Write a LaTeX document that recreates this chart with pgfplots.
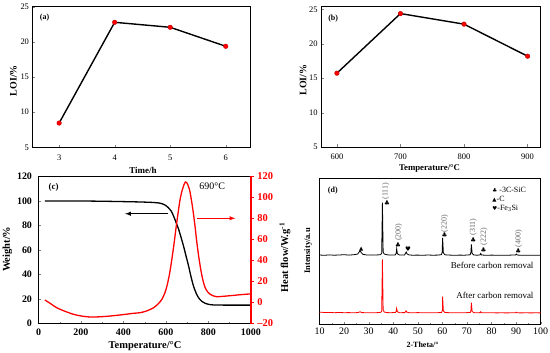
\documentclass[border=0pt]{standalone}
\usepackage{pgfplots}
\pgfplotsset{compat=1.18}
\usepackage{fontspec}
\setmainfont{Liberation Serif}
\newfontfamily\symfont{DejaVu Sans}
\pgfplotsset{
  every axis/.append style={scale only axis, anchor=south west,
    /pgf/number format/assume math mode=true,
    /pgf/number format/1000 sep={},
    tick align=inside, major tick length=2.5bp, minor tick length=1.5bp,
    clip=false},
}
\begin{document}
\begin{tikzpicture}
\useasboundingbox (0,0) rectangle (550bp,353bp);

% ---------------- (a) ----------------
\begin{axis}[at={(32.5bp,205.7bp)}, width=218.2bp, height=140.6bp,
  xmin=2.52, xmax=6.45, ymin=5, ymax=25,
  xtick={3,4,5,6}, ytick={5,10,15,20,25},
  tick pos=left, axis line style={line width=0.9bp},
  tick label style={font=\fontsize{8.5}{9}\selectfont},
  xticklabel style={yshift=-4.5bp},
  xlabel={Time/h}, ylabel={LOI/\%},
  xlabel style={at={(axis description cs:0.506,-0.161)}, anchor=center, font=\bfseries\fontsize{9}{10}\selectfont},
  ylabel style={at={(axis description cs:-0.088,0.474)}, anchor=center, font=\bfseries\fontsize{10}{11}\selectfont},
]
\addplot[black, line width=1.4bp, mark=*, mark size=2.3bp,
  mark options={fill=red, draw=red!75!black, line width=0.4bp}]
  coordinates {(3,8.45) (4,22.78) (5,22.07) (6,19.37)};
\node[anchor=west, font=\bfseries\fontsize{8}{9}\selectfont] at (axis cs:2.59,23.5) {(a)};
\end{axis}

% ---------------- (b) ----------------
\begin{axis}[at={(321bp,206bp)}, width=219.3bp, height=140.3bp,
  xmin=575, xmax=920, ymin=5, ymax=25.4,
  xtick={600,700,800,900}, ytick={5,10,15,20,25},
  tick pos=left, axis line style={line width=0.9bp},
  tick label style={font=\fontsize{8.5}{9}\selectfont},
  xticklabel style={yshift=-3.5bp},
  xlabel={Temperature/\textdegree C}, ylabel={LOI/\%},
  xlabel style={at={(axis description cs:0.495,-0.152)}, anchor=center, font=\bfseries\fontsize{8.8}{10}\selectfont},
  ylabel style={at={(axis description cs:-0.081,0.478)}, anchor=center, font=\bfseries\fontsize{10}{11}\selectfont},
]
\addplot[black, line width=1.4bp, mark=*, mark size=2.3bp,
  mark options={fill=red, draw=red!75!black, line width=0.4bp}]
  coordinates {(600,15.73) (700,24.4) (800,22.86) (900,18.2)};
\node[anchor=west, font=\bfseries\fontsize{8}{9}\selectfont] at (axis cs:581,23.7) {(b)};
\end{axis}

% ---------------- (c) left ----------------
\begin{axis}[at={(38.5bp,29.5bp)}, width=212.3bp, height=147bp,
  xmin=0, xmax=1000, ymin=0, ymax=120,
  xtick={0,200,400,600,800,1000}, ytick={0,20,40,60,80,100,120},
  minor x tick num=1,
  tick pos=left, axis line style={line width=1.6bp},
  tick label style={font=\bfseries\fontsize{10}{11}\selectfont},
  xticklabel style={yshift=-2bp}, yticklabel style={xshift=-3bp},
  xlabel={Temperature/\textdegree C}, ylabel={Weight/\%},
  xlabel style={at={(axis description cs:0.502,-0.153)}, anchor=center, font=\bfseries\fontsize{10.5}{11}\selectfont},
  ylabel style={at={(axis description cs:-0.147,0.505)}, anchor=center, font=\bfseries\fontsize{10.5}{11}\selectfont},
]
\addplot[black, line width=1.3bp, smooth] coordinates {
(30,100) (100,100) (200,100) (300,99.8) (400,99.5) (480,99.2) (540,98.8)
(573,98.2) (595,96.8) (612,94.5) (625,91.8) (636,87.8) (648,82.5) (660,76.9)
(672,70) (683,63.3) (695,55) (707,46.9) (718,38.5) (730,30.6) (742,25)
(754,21) (770,18) (785,16.5) (805,15.5) (825,15.1) (900,15) (1000,15)};
\draw[-latex, black, line width=1bp] (axis cs:612,89.6) -- (axis cs:408,89.6);
\draw[-latex, red, line width=1bp] (axis cs:746,85.9) -- (axis cs:927,85.9);
\node[anchor=west, font=\bfseries\fontsize{9}{10}\selectfont] at (axis cs:31,110.9) {(c)};
\node[anchor=west, font=\fontsize{10}{11}\selectfont] at (axis cs:741,112.2) {690\textdegree C};
\end{axis}

% ---------------- (c) right ----------------
\begin{axis}[at={(38.5bp,29.5bp)}, width=212.3bp, height=147bp,
  xmin=0, xmax=1000, ymin=-20, ymax=120,
  axis x line=none, axis y line*=right,
  ytick={-20,0,20,40,60,80,100,120},
  yticklabels={\textendash20,0,20,40,60,80,100,120},
  tick align=outside, major tick length=3bp,
  y axis line style={red, line width=2bp},
  ytick style={red, line width=0.8bp},
  yticklabel style={red, font=\bfseries\fontsize{10.5}{11}\selectfont},
  ylabel={Heat flow/W.g\textsuperscript{-1}},
  ylabel style={at={(axis description cs:1.161,0.448)}, anchor=center, font=\bfseries\fontsize{10.5}{11}\selectfont},
]
\addplot[red, line width=1.3bp, smooth] coordinates {
(30,2.4) (60,-1.5) (86,-5) (120,-8) (164,-11.2) (200,-12.8) (243,-13.8)
(290,-13.6) (337,-12.9) (400,-11.5) (447,-10.3) (479,-9.7) (510,-8) (542,-5)
(565,-1) (581,3) (595,9) (605,15.7) (617,27) (628,41) (639,57) (649,72.9)
(658,86) (667,98.3) (677,107) (686,112.6) (692,114.8) (699,114) (711,107.8)
(719,99) (727,88.8) (737,73) (746,57) (756,42) (767,28.4) (776,20) (785,14.1)
(797,10) (809,7.8) (825,6.2) (840,5.5) (870,5.9) (920,6.8) (960,7.6) (1000,8.2)};
\end{axis}

% ---------------- (d) ----------------
\begin{axis}[at={(319.5bp,28.7bp)}, width=221.2bp, height=145.8bp,
  xmin=10, xmax=100, ymin=0, ymax=145.8,
  xtick={10,20,...,100}, ytick=\empty, minor x tick num=1,
  tick pos=left, axis line style={line width=1.5bp},
  tick label style={font=\fontsize{10}{11}\selectfont},
  xlabel={2-Theta/\textdegree}, ylabel={Intensity/a.u},
  xlabel style={at={(axis description cs:0.466,-0.137)}, anchor=center, font=\bfseries\fontsize{8}{9}\selectfont},
  ylabel style={at={(axis description cs:-0.051,0.503)}, anchor=center, font=\bfseries\fontsize{8.5}{9}\selectfont},
]
\addplot[black, line width=0.8bp] coordinates {
(10,69.3) (12,69.0) (14,69.4) (16,69.1) (18,69.3) (20,69.6) (22,69.2) (24,69.6)
(25.5,70.2) (26.2,72.5) (26.5,74) (26.9,72) (27.6,70) (29,69.4) (31,69.2) (33,69.3)
(34.8,69.6) (35.3,71) (35.6,121.6) (35.9,72) (36.4,70.2) (37.5,69.5) (39,69.2)
(40.8,69.4) (41.2,71) (41.4,75.6) (41.7,70.5) (42.5,69.3) (44.6,69.4) (45.0,71)
(45.3,72.3) (45.6,70.5) (46.5,69.3) (48,69.1) (50,69.2) (52,69.0) (54,69.3)
(56,69.1) (58,69.2) (59.6,69.6) (59.9,72) (60.1,86.3) (60.4,71.5) (61,69.5)
(63,69.2) (65,69.0) (67,69.2) (69,69.1) (71.3,69.5) (71.6,72) (71.8,80)
(72.1,71) (72.7,69.4) (74,69.1) (75.3,69.3) (75.6,70.8) (75.9,69.3) (78,69.0)
(80,69.2) (82,69.0) (84,69.1) (86,69.0) (88,69.2) (89.8,69.4) (90.1,70.2)
(90.4,69.3) (92,69.0) (94,69.1) (96,69.0) (98,69.1) (100,69.0)};
\addplot[red, line width=0.8bp] coordinates {
(10,12.2) (12,11.8) (14,11.9) (16,11.6) (18,11.8) (20,11.6) (22,11.7) (24,11.5)
(25.8,11.8) (26.5,12.6) (27.2,11.7) (29,11.6) (31,11.5) (33,11.6) (34.8,11.9)
(35.3,13) (35.6,65) (35.9,14) (36.4,12.2) (37.5,11.7) (39,11.6) (40.9,11.8)
(41.2,13) (41.4,16) (41.7,12.5) (42.5,11.6) (44.7,11.7) (45.0,12.5) (45.2,13.6)
(45.5,12.2) (46.5,11.6) (48,11.5) (50,11.7) (52,11.5) (54,11.6) (56,11.5)
(58,11.6) (59.7,11.9) (60.0,14) (60.1,27.6) (60.4,13.5) (61,11.8) (63,11.6)
(65,11.5) (67,11.6) (69,11.5) (71.4,11.9) (71.6,14) (71.8,21.6) (72.1,13)
(72.7,11.7) (74,11.5) (75.4,11.7) (75.6,12.6) (75.9,11.6) (78,11.5) (80,11.6)
(82,11.4) (84,11.5) (86,11.4) (88,11.5) (89.8,11.6) (90.1,12.1) (90.4,11.5)
(92,11.4) (94,11.5) (96,11.4) (98,11.5) (100,11.4)};
% peak markers
\addplot[only marks, mark=none, nodes near coords={\symfont ♣},
  every node near coord/.append style={anchor=center, inner sep=0pt, font=\fontsize{6.5}{7}\selectfont}]
  coordinates {(37.5,121.6) (42,79) (60.9,89.3) (72.6,84.3) (76.7,74.3) (90.9,73.3)};
\addplot[only marks, mark=none, nodes near coords={\symfont ▲},
  every node near coord/.append style={anchor=center, inner sep=0pt, font=\fontsize{5.5}{6}\selectfont}]
  coordinates {(27.0,75.6)};
\addplot[only marks, mark=none, nodes near coords={\symfont ♥},
  every node near coord/.append style={anchor=center, inner sep=0pt, font=\fontsize{6.5}{7}\selectfont}]
  coordinates {(46,75.6)};
% peak labels
\addplot[only marks, mark=none, point meta=explicit symbolic, nodes near coords,
  every node near coord/.append style={rotate=90, anchor=west, inner sep=0pt, text=black!60, font=\fontsize{8}{9}\selectfont}]
  table[meta=lab] {
x y lab
36.9 124.5 (111)
42.2 83.3 (200)
60.9 92 (220)
72.5 88.5 (311)
76.9 78.5 (222)
91.1 77 (400)
};
\node[anchor=west, font=\bfseries\fontsize{8}{9}\selectfont] at (axis cs:12,133.3) {(d)};
\node[anchor=north west, align=left, inner sep=0pt, font=\fontsize{8}{9.2}\selectfont] at (axis cs:80.3,137.5)
  {{\symfont\fontsize{5.5}{6}\selectfont ♣} -3C-SiC\\{\symfont\fontsize{5.5}{6}\selectfont ▲}-C\\{\symfont\fontsize{5.5}{6}\selectfont ♥}-Fe\textsubscript{3}Si};
\node[anchor=east, font=\fontsize{9}{10}\selectfont] at (axis cs:98.5,59) {Before carbon removal};
\node[anchor=east, font=\fontsize{9}{10}\selectfont] at (axis cs:98.5,29.3) {After carbon removal};
\end{axis}
\end{tikzpicture}
\end{document}
